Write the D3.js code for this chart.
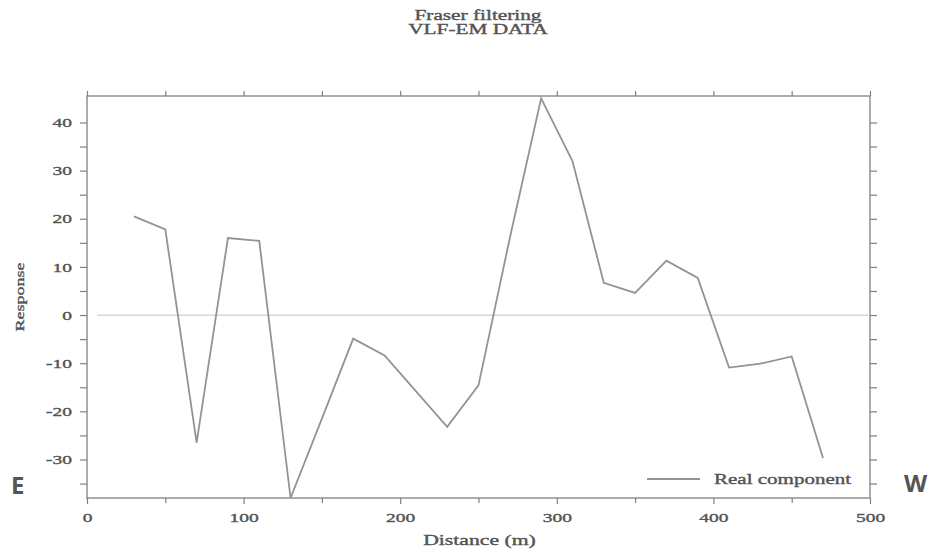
<!DOCTYPE html>
<html>
<head>
<meta charset="utf-8">
<script src="https://cdn.jsdelivr.net/npm/d3@7"></script>
<style>
  html, body { margin: 0; padding: 0; background: #fff; }
  svg { display: block; }
  text { font-family: "Liberation Serif", "DejaVu Serif", serif; fill: #555; }
</style>
</head>
<body>
<svg id="chart" width="938" height="554"></svg>
<script>
// Station distances (m) and filtered real-component response
const distance = [30, 50, 70, 90, 110, 130, 150, 170, 190, 210, 230, 250,
                  270, 290, 310, 330, 350, 370, 390, 410, 430, 450, 470];
const realComponent = [20.5, 17.8, -26.5, 16.0, 15.4, -38, -21.5, -4.9, -8.4, -15.8, -23.2, -14.6,
                       16.0, 45.0, 32.0, 6.7, 4.6, 11.3, 7.7, -10.9, -10.1, -8.6, -29.7];

const xDomain = [0, 500];
const yDomain = [-38, 45.5];
const xMajorTicks = [0, 100, 200, 300, 400, 500];
const xMinorTicks = [50, 150, 250, 350, 450];
const yMajorTicks = [-30, -20, -10, 0, 10, 20, 30, 40];
const yMinorTicks = [-35, -25, -15, -5, 5, 15, 25, 35];

const titleLines = ["Fraser filtering", "VLF-EM DATA"];
const xLabel = "Distance (m)";
const yLabel = "Response";
const legendLabel = "Real component";
const sideLabels = ["E", "W"];

const svg = d3.select("#chart");
const plotLeft = 87, plotRight = 870, plotTop = 96, plotBottom = 498;
const x = d3.scaleLinear().domain(xDomain).range([plotLeft, plotRight]);
const y = d3.scaleLinear().domain(yDomain).range([plotBottom, plotTop]);

const axisColor = "#808080";
const textColor = "#505050";
const stretchK = 1.5;

// widen glyphs horizontally (the plot output uses a wide aspect)
function stretch(sel, k) {
  sel.each(function () {
    const w = this.getComputedTextLength();
    this.setAttribute("textLength", w * k);
    this.setAttribute("lengthAdjust", "spacingAndGlyphs");
  });
}

// slightly heavier gray text
function ink(sel) {
  sel.attr("fill", textColor).attr("stroke", textColor).attr("stroke-width", 0.35);
}

function styleAxis(g) {
  g.select(".domain").remove();
  g.selectAll(".tick line").attr("stroke", axisColor).attr("stroke-width", 1.2);
  g.selectAll(".tick text").style("font-size", "13px")
    .style("font-family", '"Liberation Serif", serif').call(ink);
}

const plainFormat = d => String(d);

// zero reference line
svg.append("line")
  .attr("x1", plotLeft + 10).attr("x2", plotRight - 2)
  .attr("y1", y(0)).attr("y2", y(0))
  .attr("stroke", "#cfcfcf").attr("stroke-width", 1.2);

// frame
svg.append("rect")
  .attr("x", plotLeft).attr("y", plotTop)
  .attr("width", plotRight - plotLeft).attr("height", plotBottom - plotTop)
  .attr("fill", "none").attr("stroke", axisColor).attr("stroke-width", 1.3);

// bottom axis
const gx = svg.append("g").attr("transform", `translate(0,${plotBottom})`)
  .call(d3.axisBottom(x).tickValues(xMajorTicks).tickSize(6).tickPadding(9).tickFormat(plainFormat));
styleAxis(gx);
svg.append("g").attr("transform", `translate(0,${plotBottom})`)
  .call(d3.axisBottom(x).tickValues(xMinorTicks).tickSize(5).tickFormat(""))
  .call(styleAxis);

// top axis (ticks only)
svg.append("g").attr("transform", `translate(0,${plotTop})`)
  .call(d3.axisTop(x).tickValues(xMajorTicks.concat(xMinorTicks)).tickSize(5).tickFormat(""))
  .call(styleAxis);

// left axis
const gy = svg.append("g").attr("transform", `translate(${plotLeft},0)`)
  .call(d3.axisLeft(y).tickValues(yMajorTicks).tickSize(7).tickPadding(8).tickFormat(plainFormat));
styleAxis(gy);
svg.append("g").attr("transform", `translate(${plotLeft},0)`)
  .call(d3.axisLeft(y).tickValues(yMinorTicks).tickSize(7).tickFormat(""))
  .call(styleAxis);

// right axis (ticks only)
svg.append("g").attr("transform", `translate(${plotRight},0)`)
  .call(d3.axisRight(y).tickValues(yMajorTicks.concat(yMinorTicks)).tickSize(7).tickFormat(""))
  .call(styleAxis);

stretch(gx.selectAll(".tick text"), stretchK);
stretch(gy.selectAll(".tick text"), stretchK);

// data line
const line = d3.line().x((d, i) => x(distance[i])).y(d => y(d));
svg.append("path")
  .datum(realComponent)
  .attr("d", line)
  .attr("fill", "none")
  .attr("stroke", "#939393")
  .attr("stroke-width", 1.8)
  .attr("stroke-linejoin", "miter");

// legend
svg.append("line")
  .attr("x1", 647).attr("x2", 700).attr("y1", 479).attr("y2", 479)
  .attr("stroke", "#939393").attr("stroke-width", 1.8);
svg.append("text")
  .attr("x", 714).attr("y", 484)
  .style("font-size", "14px")
  .text(legendLabel)
  .call(ink)
  .call(stretch, stretchK);

// title
svg.selectAll("text.title")
  .data(titleLines)
  .join("text")
  .attr("class", "title")
  .attr("x", 478).attr("y", (d, i) => 20 + i * 14)
  .attr("text-anchor", "middle")
  .style("font-size", "14px")
  .text(d => d)
  .call(ink)
  .call(stretch, 1.52);

// axis titles
svg.append("text")
  .attr("x", (plotLeft + plotRight) / 2 + 1).attr("y", 545)
  .attr("text-anchor", "middle")
  .style("font-size", "14px")
  .text(xLabel)
  .call(ink)
  .call(stretch, 1.55);

svg.append("text")
  .attr("transform", `translate(24,${297}) rotate(-90)`)
  .attr("text-anchor", "middle")
  .style("font-size", "12px")
  .text(yLabel)
  .call(ink)
  .call(stretch, stretchK);

// direction labels
svg.append("text")
  .attr("x", 11).attr("y", 494)
  .style("font-family", '"Open Sans", "Liberation Sans", sans-serif')
  .style("font-weight", "bold").style("font-size", "24px")
  .attr("fill", "#000")
  .text(sideLabels[0]);
svg.append("text")
  .attr("x", 904).attr("y", 492)
  .style("font-family", '"Open Sans", "Liberation Sans", sans-serif')
  .style("font-weight", "bold").style("font-size", "24px")
  .attr("fill", "#000")
  .text(sideLabels[1]);
</script>
</body>
</html>
